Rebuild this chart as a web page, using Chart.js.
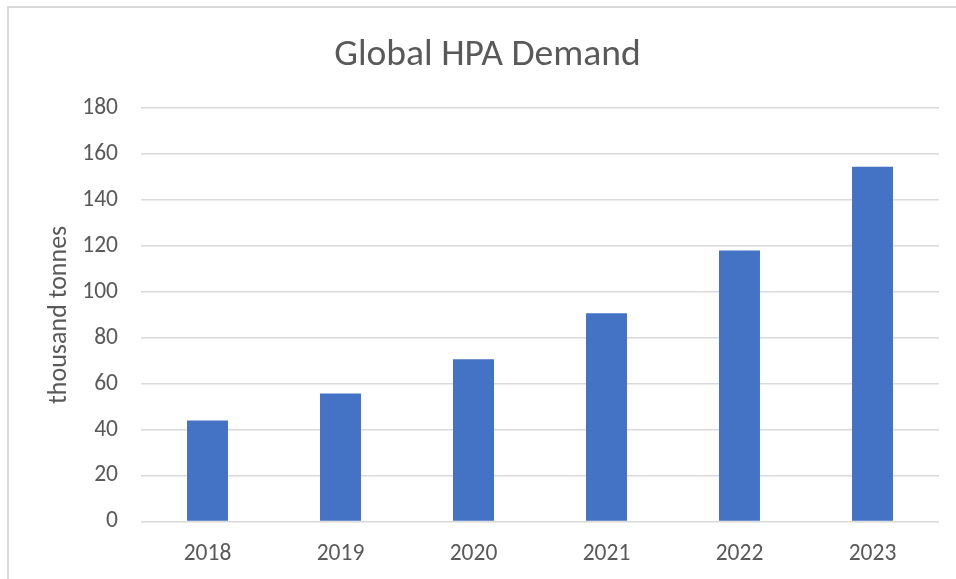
<!DOCTYPE html>
<html>
<head>
<meta charset="utf-8">
<script src="https://cdn.jsdelivr.net/npm/chart.js@4/dist/chart.umd.min.js"></script>
<style>
  html, body { margin: 0; padding: 0; background: #ffffff; overflow: hidden; width: 956px; height: 579px; }
  #frame { position: absolute; left: 7px; top: 6px; width: 2000px; height: 2000px;
           border-left: 2px solid #d9d9d9; border-top: 2px solid #d9d9d9; box-sizing: border-box; }
  #wrap { position: absolute; left: 0; top: 0; width: 956px; height: 579px; }
</style>
</head>
<body>
<div id="frame"></div>
<div id="wrap"><canvas id="c" width="956" height="579"></canvas></div>
<script>
const categories = ["2018", "2019", "2020", "2021", "2022", "2023"];
const demandValues = [44, 55.7, 70.6, 90.7, 118, 154.5];
const yTicks = [0, 20, 40, 60, 80, 100, 120, 140, 160, 180];

const FONT = "Carlito, Lato, 'Liberation Sans', sans-serif";
const TEXT = "#595959";

new Chart(document.getElementById("c"), {
  type: "bar",
  data: {
    labels: categories,
    datasets: [{
      label: "Global HPA Demand",
      data: demandValues,
      backgroundColor: "#4472C4",
      borderWidth: 0,
      barPercentage: 0.308,
      categoryPercentage: 1.0
    }]
  },
  options: {
    responsive: false,
    animation: false,
    devicePixelRatio: 1,
    layout: { padding: { left: 36, right: 17, top: 0, bottom: 0 } },
    plugins: {
      legend: { display: false },
      tooltip: { enabled: false },
      title: {
        display: true,
        text: "Global HPA Demand",
        color: TEXT,
        font: { family: FONT, size: 37.6, weight: "normal", lineHeight: 1.2 },
        padding: { top: 33, bottom: 30 }
      }
    },
    scales: {
      x: {
        grid: { display: false, drawTicks: false },
        border: { display: false },
        ticks: {
          color: TEXT,
          font: { family: FONT, size: 23.5 },
          padding: 19,
          maxRotation: 0
        },
        afterFit: (s) => { s.height = 57.5; }
      },
      y: {
        min: 0,
        max: 180,
        afterBuildTicks: (s) => { s.ticks = yTicks.map(v => ({ value: v })); },
        grid: { color: "#d9d9d9", lineWidth: 1.5, drawTicks: false },
        border: { display: false },
        ticks: {
          color: TEXT,
          font: { family: FONT, size: 23.5 },
          padding: 23
        },
        title: {
          display: true,
          text: "thousand tonnes",
          color: TEXT,
          font: { family: FONT, size: 26, lineHeight: 1.2 },
          padding: { top: 8, bottom: 0 }
        },
        afterFit: (s) => { s.width = 105; }
      }
    }
  }
});
</script>
</body>
</html>
